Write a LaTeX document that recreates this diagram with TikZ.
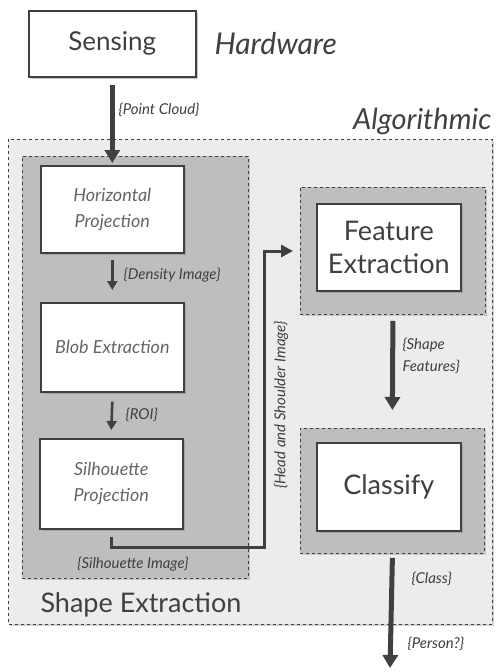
\documentclass[tikz,border=0pt]{standalone}
\usepackage{fontspec}
\setmainfont{Lato}
\usetikzlibrary{arrows.meta,shadows,positioning}
\definecolor{ink}{HTML}{404040}
\definecolor{soft}{HTML}{666666}
\definecolor{outerfill}{HTML}{ECECEC}
\definecolor{midfill}{HTML}{BEBEBE}
\tikzset{
  box/.style={draw=ink, line width=1.6pt, fill=white, drop shadow={shadow xshift=2pt, shadow yshift=-2pt, opacity=0.45}, inner sep=0pt},
  group/.style={draw=ink, dashed, line width=0.8pt, drop shadow={shadow xshift=1.5pt, shadow yshift=-1.5pt, opacity=0.35}},
  bigtxt/.style={text=ink, font=\fontsize{27}{31}\selectfont, align=center},
  innertxt/.style={text=soft, font=\itshape\fontsize{18}{26}\selectfont, align=center},
  lbl/.style={text=ink, font=\itshape\fontsize{15}{17}\selectfont, align=left},
  heavy/.style={draw=ink, line width=5pt, -{Triangle[width=15pt,length=13pt]}},
  light/.style={draw=ink, line width=2.6pt, -{Triangle[width=10pt,length=9pt]}},
}
\begin{document}
\begin{tikzpicture}[x=1pt,y=-1pt]
\useasboundingbox (0,0) rectangle (499,672);
% groups
\draw[group, fill=outerfill] (8,139) rectangle (492,624);
\node[group, fill=midfill, minimum width=226pt, minimum height=422pt, anchor=north west] (se) at (22,156) {};
\node[group, fill=midfill, minimum width=185pt, minimum height=127pt, anchor=north west] (fg) at (300,187) {};
\node[group, fill=midfill, minimum width=184pt, minimum height=125pt, anchor=north west] (cg) at (300,428) {};
% boxes
\node[box, minimum width=167pt, minimum height=66pt, anchor=north west] (sense) at (28,10) {};
\node[bigtxt, font=\fontsize{26}{30}\selectfont] at (sense.center) {Sensing};
\node[box, minimum width=143pt, minimum height=87pt, anchor=north west] (hp) at (40,165) {};
\node[innertxt] at (hp.center) {Horizontal\\Projection};
\node[box, minimum width=143pt, minimum height=89pt, anchor=north west] (be) at (40,302) {};
\node[innertxt] at (be.center) {Blob Extraction};
\node[box, minimum width=143pt, minimum height=90pt, anchor=north west] (sp) at (39,438) {};
\node[innertxt] at (sp.center) {Silhouette\\Projection};
\node[box, minimum width=144pt, minimum height=87pt, anchor=north west] (fe) at (316,203) {};
\node[bigtxt, font=\fontsize{27}{33}\selectfont] at (fe.center) {Feature\\Extraction};
\node[box, minimum width=144pt, minimum height=88pt, anchor=north west] (cl) at (316,442) {};
\node[bigtxt] at (cl.center) {Classify};
% titles
\node[text=ink, font=\itshape\fontsize{30}{32}\selectfont, anchor=west] (hw) at (211,44) {Hardware};
\node[text=ink, font=\itshape\fontsize{29}{32}\selectfont, anchor=east] (alg) at (495,121) {Algorithmic};
\node[text=ink, font=\fontsize{27}{30}\selectfont, anchor=west] (setxt) at (37,605) {Shape Extraction};
% connectors
\coordinate (pc) at (112,163);
\draw[heavy] ([yshift=-7pt]sense.south) -- (sense.south |- pc);
\node[lbl, anchor=west] at (115,110) {\{Point Cloud\}};
\draw[light] ([yshift=-6pt]hp.south) -- ([yshift=12pt]be.north);
\node[lbl, anchor=west] at (120,275) {\{Density Image\}};
\draw[light] ([yshift=-9pt]be.south) -- ([yshift=8pt]sp.north);
\node[lbl, anchor=west] at (122,415) {\{ROI\}};
\coordinate (hsB) at (264,251);
\draw[draw=ink, line width=3pt, -{Triangle[width=12pt,length=12pt]}] ([yshift=-7pt]sp.south) -- ++(0,11) -| (hsB) -- ([xshift=-7pt]fg.west |- hsB);
\node[lbl, rotate=90] at (281,405) {\{Head and Shoulder Image\}};
\node[lbl, anchor=center] at (133,564) {\{Silhouette Image\}};
\draw[heavy] ([yshift=-6pt]fg.south) -- ([yshift=18pt]cg.north);
\node[lbl, align=left, anchor=west, font=\itshape\fontsize{15}{22}\selectfont] at (399,356) {\{Shape\\Features\}};
\coordinate (endp) at (390,668);
\draw[heavy] ([yshift=-4pt]cg.south) -- (endp);
\node[lbl, anchor=west] at (408,579) {\{Class\}};
\node[lbl, anchor=west] at (404,644) {\{Person?\}};
\end{tikzpicture}
\end{document}
